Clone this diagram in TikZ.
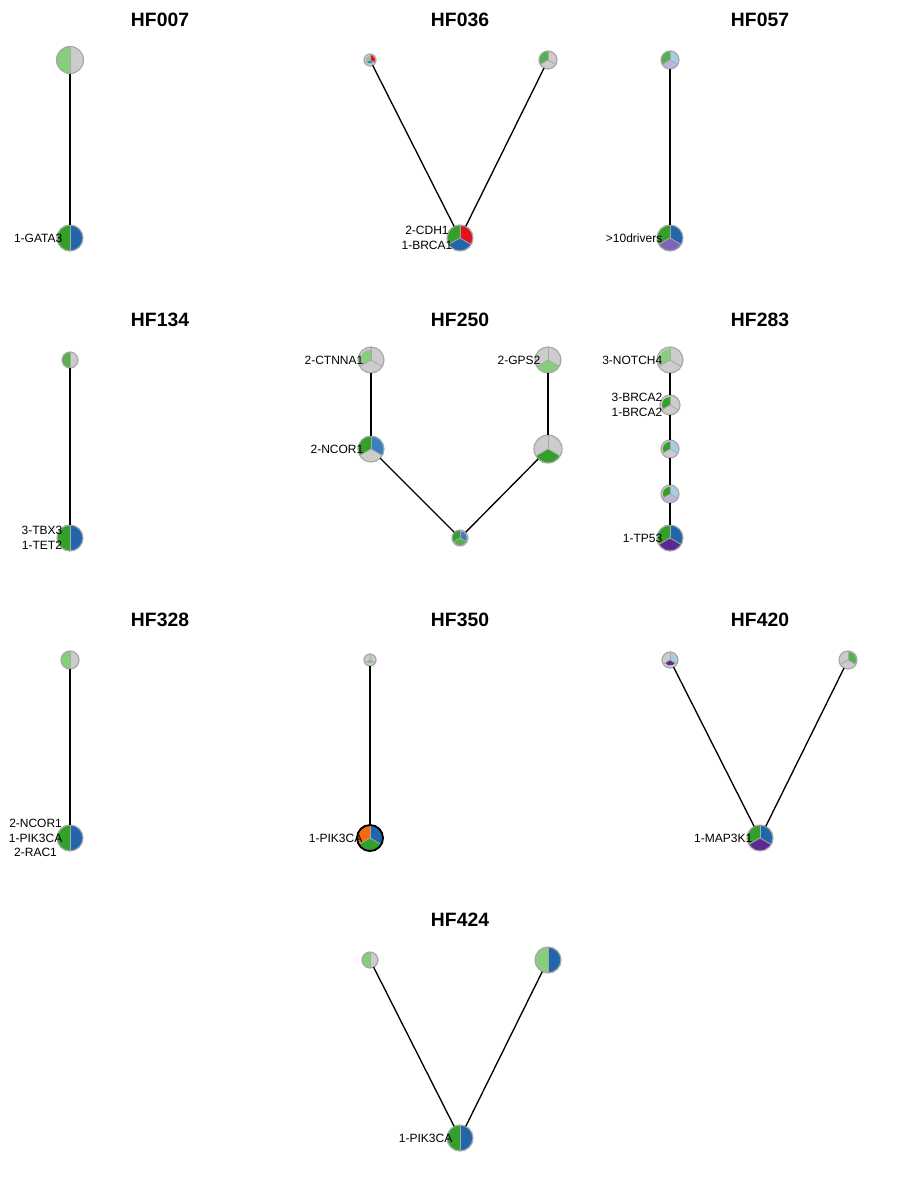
\documentclass[tikz,border=0pt]{standalone}
\usepackage{fontspec}
\setmainfont{Liberation Sans}
\definecolor{pgray}{HTML}{CCCCCC}
\definecolor{pbord}{HTML}{A8A8A8}
\definecolor{dgreen}{HTML}{33A02C}
\definecolor{mgreen}{HTML}{55B04F}
\definecolor{lgreen}{HTML}{88CC7E}
\definecolor{dblue}{HTML}{2166AA}
\definecolor{mblue}{HTML}{3A80C0}
\definecolor{lblue}{HTML}{A6CEE3}
\definecolor{pred}{HTML}{E3101E}
\definecolor{dpurple}{HTML}{5B2A8E}
\definecolor{mpurple}{HTML}{8064B8}
\definecolor{lpurple}{HTML}{C2B3DD}
\definecolor{porange}{HTML}{F26A11}
\tikzset{
  pie/.style={circle,fill=pgray,inner sep=0pt,outer sep=0pt,draw=none},
  pborder/.style={draw=pbord,line width=0.9pt},
  sel/.style={draw=black,line width=1.4pt},
  pdivider/.style={draw=pbord,line width=0.6pt},
  edge/.style={draw=black,line width=1pt},
  lab/.style={font=\fontsize{9}{11}\selectfont,align=center,inner sep=0pt,anchor=east},
  ptitle/.style={font=\fontsize{14.5}{16}\selectfont\bfseries,inner sep=0pt}
}
% wedge: node, start, end, radius, colour, fraction
\newcommand\pw[6]{\fill[#5] (#1.center) -- ++(#2:{#4*#6}) arc[start angle=#2,end angle=#3,radius={#4*#6}] -- cycle;}
% three-sector pie: name, pos, r, c1, f1 (top-left), c2, f2 (top-right), c3, f3 (bottom)
\newcommand\pieT[9]{%
  \node[pie,minimum size={#3*1.5pt}] (#1) at (#2) {};
  \pw{#1}{90}{210}{#3}{#4}{#5}
  \pw{#1}{-30}{90}{#3}{#6}{#7}
  \pw{#1}{210}{330}{#3}{#8}{#9}
  \foreach \aa in {90,210,330} {\draw[pdivider] (#1.center) -- ++(\aa:#3);}
  \draw[pborder] (#1.center) circle[radius=#3];}
% two-sector pie: name, pos, r, cL, fL, cR, fR
\newcommand\pieH[7]{%
  \node[pie,minimum size={#3*1.5pt}] (#1) at (#2) {};
  \pw{#1}{90}{270}{#3}{#4}{#5}
  \pw{#1}{-90}{90}{#3}{#6}{#7}
  \draw[pdivider] (#1.center) -- ++(90:#3);
  \draw[pdivider] (#1.center) -- ++(270:#3);
  \draw[pborder] (#1.center) circle[radius=#3];}
\begin{document}
\begin{tikzpicture}[x=0.75pt,y=0.75pt]
\useasboundingbox (0,0) rectangle (900,-1200);
% titles
\node[ptitle] (t1) at (160,-20) {HF007};
\node[ptitle] (t2) at (460,-20) {HF036};
\node[ptitle] (t3) at (760,-20) {HF057};
\node[ptitle] (t4) at (160,-320) {HF134};
\node[ptitle] (t5) at (460,-320) {HF250};
\node[ptitle] (t6) at (760,-320) {HF283};
\node[ptitle] (t7) at (160,-620) {HF328};
\node[ptitle] (t8) at (460,-620) {HF350};
\node[ptitle] (t9) at (760,-620) {HF420};
\node[ptitle] (t10) at (460,-920) {HF424};
% HF007
\pieH{a1}{70,-60}{13.5}{lgreen}{1}{pgray}{0}
\pieH{a2}{70,-238}{13}{dgreen}{1}{dblue}{1}
\draw[edge] (a1) -- (a2);
\node[lab] (la2) at ([xshift=-5.6pt]a2.center) {1-GATA3};
% HF036
\pieT{b1}{370,-60}{6}{lgreen}{0.7}{pred}{0.85}{mblue}{0.6}
\pieT{b2}{548,-60}{9}{mgreen}{1}{pgray}{0}{pgray}{0}
\pieT{b3}{460,-238}{13}{dgreen}{1}{pred}{1}{dblue}{1}
\draw[edge] (b1) -- (b3);
\draw[edge] (b2) -- (b3);
\node[lab] (lb3) at ([xshift=-5.6pt]b3.center) {2-CDH1\\1-BRCA1};
% HF057
\pieT{c1}{670,-60}{9}{mgreen}{1}{lblue}{0.9}{lpurple}{0.95}
\pieT{c2}{670,-238}{13}{dgreen}{1}{dblue}{1}{mpurple}{1}
\draw[edge] (c1) -- (c2);
\node[lab] (lc2) at ([xshift=-5.6pt]c2.center) {>10drivers};
% HF134
\pieH{d1}{70,-360}{8}{mgreen}{1}{pgray}{0}
\pieH{d2}{70,-538}{13}{dgreen}{1}{dblue}{1}
\draw[edge] (d1) -- (d2);
\node[lab] (ld2) at ([xshift=-5.6pt]d2.center) {3-TBX3\\1-TET2};
% HF250
\pieT{e1}{371,-360}{13}{lgreen}{0.8}{pgray}{0}{pgray}{0}
\pieT{e2}{371,-449}{13}{dgreen}{1}{mblue}{1}{pgray}{0}
\pieT{e3}{460,-538}{8}{dgreen}{1}{mblue}{0.85}{mgreen}{0.9}
\pieT{e4}{548,-360}{13}{pgray}{0}{pgray}{0}{lgreen}{1}
\pieT{e5}{548,-449}{14}{pgray}{0}{pgray}{0}{dgreen}{1}
\draw[edge] (e1) -- (e2);
\draw[edge] (e2) -- (e3);
\draw[edge] (e3) -- (e5);
\draw[edge] (e5) -- (e4);
\node[lab] (le1) at ([xshift=-5.6pt]e1.center) {2-CTNNA1};
\node[lab] (le2) at ([xshift=-5.6pt]e2.center) {2-NCOR1};
\node[lab] (le4) at ([xshift=-5.6pt]e4.center) {2-GPS2};
% HF283
\pieT{f1}{670,-360}{13}{lgreen}{0.85}{pgray}{0}{pgray}{0}
\pieT{f2}{670,-405}{10}{dgreen}{0.8}{pgray}{0}{pgray}{0}
\pieT{f3}{670,-449}{9}{dgreen}{0.8}{lblue}{1}{pgray}{0}
\pieT{f4}{670,-494}{9}{dgreen}{0.8}{lblue}{0.9}{lpurple}{0.95}
\pieT{f5}{670,-538}{13}{dgreen}{1}{dblue}{1}{dpurple}{1}
\draw[edge] (f1) -- (f2);
\draw[edge] (f2) -- (f3);
\draw[edge] (f3) -- (f4);
\draw[edge] (f4) -- (f5);
\node[lab] (lf1) at ([xshift=-5.6pt]f1.center) {3-NOTCH4};
\node[lab] (lf2) at ([xshift=-5.6pt]f2.center) {3-BRCA2\\1-BRCA2};
\node[lab] (lf5) at ([xshift=-5.6pt]f5.center) {1-TP53};
% HF328
\pieH{g1}{70,-660}{9}{lgreen}{1}{pgray}{0}
\pieH{g2}{70,-838}{13}{dgreen}{1}{dblue}{1}
\draw[edge] (g1) -- (g2);
\node[lab] (lg2) at ([xshift=-5.6pt]g2.center) {2-NCOR1\\1-PIK3CA\\2-RAC1};
% HF350
\pieT{h1}{370,-660}{6}{pgray}{0}{pgray}{0}{lgreen}{0.6}
\pieT{h2}{370,-838}{13}{porange}{1}{dblue}{1}{dgreen}{1}
\draw[sel] (h2.center) circle[radius=13];
\draw[edge] (h1) -- (h2);
\node[lab] (lh2) at ([xshift=-5.6pt]h2.center) {1-PIK3CA};
% HF420
\pieT{i1}{670,-660}{8}{pgray}{0}{lblue}{0.9}{dpurple}{0.7}
\pieT{i2}{848,-660}{9}{pgray}{0}{mgreen}{0.9}{pgray}{0}
\pieT{i3}{760,-838}{13}{dgreen}{1}{dblue}{1}{dpurple}{1}
\draw[edge] (i1) -- (i3);
\draw[edge] (i2) -- (i3);
\node[lab] (li3) at ([xshift=-5.6pt]i3.center) {1-MAP3K1};
% HF424
\pieH{j1}{370,-960}{8}{lgreen}{1}{pgray}{0}
\pieH{j2}{548,-960}{13}{lgreen}{1}{dblue}{1}
\pieH{j3}{460,-1138}{13}{dgreen}{1}{dblue}{1}
\draw[edge] (j1) -- (j3);
\draw[edge] (j2) -- (j3);
\node[lab] (lj3) at ([xshift=-5.6pt]j3.center) {1-PIK3CA};
\end{tikzpicture}
\end{document}
